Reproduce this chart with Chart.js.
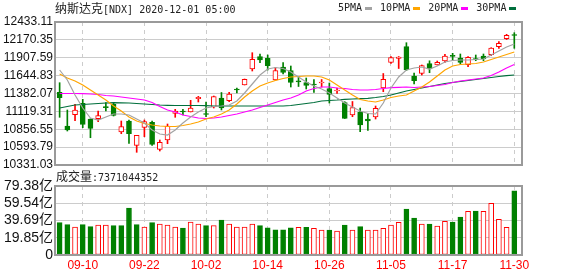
<!DOCTYPE html>
<html>
<head>
<meta charset="utf-8">
<script src="https://cdn.jsdelivr.net/npm/chart.js@4.4.1/dist/chart.umd.min.js"></script>
<style>
  body { margin: 0; background: #fff; }
  #wrap { position: relative; width: 578px; height: 276px; overflow: hidden; background: #fff; }
  canvas { position: absolute; left: 0; }
  #kline { top: 0; }
  #vol { top: 170px; }
  .txt { position: absolute; white-space: pre; font-family: 'DejaVu Sans Mono', monospace; font-size: 10px; color: #222; line-height: 14px; }
  .cjk { font-family: 'Noto Sans CJK SC', sans-serif; font-size: 12px; }
  .sw { display: inline-block; width: 7px; height: 3px; vertical-align: middle; margin: 0 8px 0 3px; }
</style>
</head>
<body>
<div id="wrap">
  <canvas id="kline" width="578" height="180"></canvas>
  <canvas id="vol" width="578" height="106"></canvas>
  <div class="txt" style="left:55px;top:1px"><span class="cjk">纳斯达克</span>[NDX] 2020-12-01 05:00</div>
  <div class="txt" id="legend" style="left:338px;top:1px"></div>
  <div class="txt" style="left:56px;top:169px"><span class="cjk">成交量</span>:7371044352</div>
</div>
<script>
// 交易日 (2020)
const dates = ['09-04','09-08','09-09','09-10','09-11','09-14','09-15','09-16','09-17','09-18',
  '09-21','09-22','09-23','09-24','09-25','09-28','09-29','09-30','10-01','10-02',
  '10-05','10-06','10-07','10-08','10-09','10-12','10-13','10-14','10-15','10-16',
  '10-19','10-20','10-21','10-22','10-23','10-26','10-27','10-28','10-29','10-30',
  '11-02','11-03','11-04','11-05','11-06','11-09','11-10','11-11','11-12','11-13',
  '11-16','11-17','11-18','11-19','11-20','11-23','11-24','11-25','11-27','11-30'];

// K线: 开 高 低 收
const openP = [11399.7,10904.3,11070.4,11238.0,11007.2,11011.6,11188.0,11223.3,10816.1,10977.8,
  10620.6,10885.2,10958.7,10561.8,10698.5,11091.0,11120.4,11110.1,11305.6,11088.0,
  11183.6,11315.9,11276.2,11440.8,11507.0,11742.2,11923.0,11899.5,11580.5,11771.6,
  11720.1,11562.9,11543.7,11517.3,11536.4,11455.5,11418.8,11246.8,11066.0,11110.1,
  11007.2,11036.6,11462.9,11837.7,11896.5,12070.0,11639.3,11679.0,11820.1,11801.0,
  11859.8,11937.7,11903.9,11805.4,11896.5,11933.3,11952.4,12070.0,12187.6,12249.3];
const highP = [11540.8,11139.5,11223.3,11296.8,11010.0,11124.8,11246.8,11246.8,10977.8,10992.5,
  10767.6,10992.5,10977.8,10698.5,10933.7,11149.8,11149.8,11282.1,11340.9,11257.1,
  11345.3,11396.7,11399.7,11462.9,11595.2,11981.8,11962.7,11948.0,11767.2,11837.7,
  11786.3,11624.6,11609.9,11587.8,11587.8,11536.4,11462.9,11261.5,11264.5,11168.9,
  11088.0,11198.3,11676.0,11925.9,11925.9,12128.8,11683.4,11801.0,11862.7,11859.8,
  11958.3,11973.0,11962.7,11925.9,11948.0,11962.7,12055.3,12143.5,12252.3,12275.8];
const lowP = [11032.2,10830.8,10982.2,10879.3,10732.3,10967.5,11124.8,11051.3,10791.1,10650.0,
  10517.7,10747.0,10620.6,10536.8,10644.1,11032.2,11066.0,11110.1,11257.1,11041.0,
  11168.9,11139.5,11261.5,11389.4,11507.0,11712.8,11834.8,11727.5,11573.2,11668.7,
  11477.6,11484.9,11448.2,11396.7,11477.6,11242.4,11382.0,11014.5,11041.0,10820.5,
  10838.1,11007.2,11408.5,11823.0,11749.5,11720.1,11521.7,11654.0,11687.8,11801.0,
  11837.7,11867.1,11815.7,11776.0,11864.2,11864.2,11937.7,12046.5,12175.8,12046.5];
const closeP = [11320.3,10845.5,11139.5,10929.3,10870.5,11055.7,11173.3,11061.6,10894.0,10791.1,
  10767.6,10967.5,10635.3,10664.7,10904.3,11124.8,11110.1,11168.9,11326.2,11073.3,
  11335.0,11168.9,11374.7,11433.5,11590.8,11884.8,11874.5,11790.7,11720.1,11690.7,
  11543.8,11554.0,11499.6,11507.0,11551.1,11367.3,11433.5,11017.5,11176.2,10919.0,
  10977.8,11164.5,11590.8,11911.2,11918.6,11727.5,11570.2,11790.7,11742.2,11840.7,
  11933.3,11928.9,11837.7,11914.2,11881.8,11889.2,12050.9,12120.0,12237.6,12234.6];

// 均线
const ma5 = [11727.5,11580.5,11360.0,11168.9,11021.9,10992.5,11036.6,11080.7,11080.7,11066.0,
  11007.2,10948.4,10845.5,10786.7,10772.0,10845.5,10948.4,11036.6,11110.1,11168.9,
  11190.9,11198.3,11213.0,11271.8,11389.4,11521.7,11654.0,11742.2,11764.2,11749.5,
  11698.1,11624.6,11551.1,11492.3,11448.2,11389.4,11315.9,11242.4,11183.6,11124.8,
  11088.0,11080.7,11242.4,11462.9,11624.6,11727.5,11756.9,11771.6,11742.2,11786.3,
  11845.1,11867.1,11874.5,11874.5,11881.8,11889.2,11948.0,12006.8,12065.6,12109.7];
const ma10 = [11668.7,11609.9,11565.8,11507.0,11433.5,11360.0,11286.5,11198.3,11124.8,11036.6,
  10977.8,10941.0,10919.0,10904.3,10896.9,10896.9,10911.6,10933.7,10963.1,11007.2,
  11036.6,11080.7,11139.5,11227.7,11330.6,11418.8,11492.3,11536.4,11573.1,11602.5,
  11624.6,11631.9,11639.3,11639.3,11624.6,11580.5,11507.0,11433.5,11360.0,11293.8,
  11271.8,11257.1,11286.5,11323.2,11345.3,11360.0,11418.8,11477.6,11551.1,11639.3,
  11727.5,11786.3,11808.3,11815.7,11823.0,11845.1,11881.8,11918.6,11955.3,11992.1];
const ma20 = [11382.0,11382.0,11382.0,11379.1,11374.7,11367.3,11352.6,11345.3,11330.6,11315.9,
  11301.2,11286.5,11249.7,11190.9,11139.5,11110.1,11066.0,11043.9,11021.9,11014.5,
  11021.9,11036.6,11058.6,11080.7,11110.1,11139.5,11176.2,11213.0,11249.7,11286.5,
  11315.9,11360.0,11418.8,11455.5,11477.6,11477.6,11462.9,11455.5,11440.8,11433.5,
  11433.5,11440.8,11455.5,11467.3,11473.2,11477.6,11470.2,11477.6,11484.9,11499.6,
  11514.3,11543.7,11565.8,11580.5,11595.2,11609.9,11646.6,11698.1,11756.9,11808.3];
const ma30 = [11168.9,11190.9,11213.0,11220.3,11227.7,11235.0,11242.4,11246.8,11245.3,11242.4,
  11235.0,11227.7,11220.3,11213.0,11208.6,11205.6,11205.6,11205.6,11205.6,11202.7,
  11198.3,11198.3,11198.3,11198.3,11198.3,11198.3,11198.3,11198.3,11198.3,11198.3,
  11205.6,11220.3,11235.0,11249.7,11271.8,11279.1,11286.5,11296.8,11301.2,11305.6,
  11311.5,11323.2,11337.9,11360.0,11389.4,11418.8,11440.8,11462.9,11484.9,11507.0,
  11529.0,11543.7,11558.4,11573.1,11587.8,11602.5,11617.2,11631.9,11643.7,11654.0];

// 成交量 (亿)
const volume = [37.2,34.9,32.2,34.9,32.6,34.5,34.5,33.8,33.8,54.1,
  34.9,32.2,37.2,35.7,34.5,32.2,31.1,38.0,35.7,33.8,
  33.8,40.3,35.7,32.2,32.2,35.7,33.8,31.4,29.1,29.1,
  31.2,31.8,31.8,30.7,28.8,28.8,27.6,34.5,28.8,32.6,
  28.8,28.8,30.7,34.5,37.6,52.9,42.6,35.7,35.7,33.4,
  38.7,38.0,43.7,50.2,50.6,50.2,59.5,41.1,31.8,73.71];

const priceTicks = [10331.03,10593.79,10856.55,11119.31,11382.07,11644.83,11907.59,12170.35,12433.11];
const volTicks = [0,19.85,39.69,59.54,79.38];
const labelDates = ['09-10','09-22','10-02','10-14','10-26','11-05','11-17','11-30'];

const maNames = ['5PMA','10PMA','20PMA','30PMA'];
const maColors = ['#a3a3a3','#ffa500','#ff00ff','#006f3c'];

const RED = '#ff0000';
const GREEN = '#008000';

Chart.defaults.font.family = "'Liberation Sans', 'Noto Sans CJK SC', sans-serif";
Chart.defaults.font.size = 12;
Chart.defaults.color = '#111';

const up = closeP.map((c, i) => c >= openP[i]);
// 量柱颜色按与前一日收盘比较
const volUp = closeP.map((c, i) => i === 0 ? up[0] : c >= closeP[i - 1]);
const tickIdx = labelDates.map(d => dates.indexOf(d));

// 图框
const frame = {
  id: 'frame',
  afterDraw(chart) {
    const a = chart.chartArea;
    const ctx = chart.ctx;
    ctx.save();
    ctx.strokeStyle = '#9a9a9a';
    ctx.lineWidth = 2;
    ctx.strokeRect(a.left, a.top, a.right - a.left, a.bottom - a.top);
    ctx.restore();
  }
};

function xAxis(showLabels) {
  return {
    type: 'linear', min: -0.6, max: 60, offset: false,
    afterBuildTicks: s => { s.ticks = tickIdx.map(v => ({ value: v })); },
    afterFit: s => { s.height = showLabels ? 21 : 0; },
    grid: { color: '#cccccc', lineWidth: 1, drawTicks: false, offset: false },
    border: { display: false, dash: [4, 4] },
    ticks: {
      display: showLabels, autoSkip: false, maxRotation: 0, padding: 3,
      color: RED, font: { size: 12 },
      callback: v => dates[v]
    }
  };
}

const toPts = arr => arr.map((v, i) => ({ x: i, y: v }));

const lineSets = [ma5, ma10, ma20, ma30].map((arr, k) => ({
  type: 'line',
  label: maNames[k],
  data: toPts(arr),
  borderColor: maColors[k],
  borderWidth: 1.2,
  pointRadius: 0,
  tension: 0,
  fill: false,
  order: 0
}));

new Chart(document.getElementById('kline'), {
  type: 'line',
  data: {
    datasets: [
      ...lineSets,
      {
        type: 'bar',
        label: 'body',
        data: openP.map((o, i) => ({ x: i, y: [o, closeP[i]] })),
        backgroundColor: up.map(u => u ? '#ffffff' : GREEN),
        borderColor: up.map(u => u ? RED : GREEN),
        borderWidth: 1,
        borderSkipped: false,
        barThickness: 5,
        minBarLength: 1,
        grouped: false,
        order: 1
      },
      {
        type: 'bar',
        label: 'wick',
        data: lowP.map((l, i) => ({ x: i, y: [l, highP[i]] })),
        backgroundColor: up.map(u => u ? RED : GREEN),
        borderWidth: 0,
        barThickness: 1,
        grouped: false,
        order: 2
      }
    ]
  },
  options: {
    responsive: false,
    animation: false,
    events: [],
    layout: { padding: { left: 0, right: 56, top: 22, bottom: 15 } },
    plugins: { legend: { display: false }, tooltip: { enabled: false } },
    scales: {
      x: xAxis(false),
      y: {
        type: 'linear',
        min: priceTicks[0], max: priceTicks[priceTicks.length - 1],
        afterBuildTicks: s => { s.ticks = priceTicks.map(v => ({ value: v })); },
        afterFit: s => { s.width = 55; },
        grid: { color: '#cccccc', lineWidth: 1, drawTicks: false },
        border: { display: false },
        ticks: { autoSkip: false, padding: 2, font: { size: 12 }, callback: v => v.toFixed(2) }
      }
    }
  },
  plugins: [frame]
});

new Chart(document.getElementById('vol'), {
  type: 'line',
  data: {
    datasets: [{
      type: 'bar',
      label: '成交量',
      data: toPts(volume),
      backgroundColor: volUp.map(u => u ? '#ffffff' : GREEN),
      borderColor: volUp.map(u => u ? RED : GREEN),
      borderWidth: 1,
      borderSkipped: false,
      barThickness: 5,
      grouped: false
    }]
  },
  options: {
    responsive: false,
    animation: false,
    events: [],
    layout: { padding: { left: 0, right: 56, top: 16, bottom: 0 } },
    plugins: { legend: { display: false }, tooltip: { enabled: false } },
    scales: {
      x: xAxis(true),
      y: {
        type: 'linear',
        min: 0, max: volTicks[volTicks.length - 1],
        afterBuildTicks: s => { s.ticks = volTicks.map(v => ({ value: v })); },
        afterFit: s => { s.width = 55; },
        grid: { color: '#cccccc', lineWidth: 1, drawTicks: false },
        border: { display: false },
        ticks: { autoSkip: false, padding: 2, font: { size: 14 }, callback: v => v === 0 ? '0' : v.toFixed(2) + '亿' }
      }
    }
  },
  plugins: [frame]
});

// 图例
const legend = document.getElementById('legend');
maNames.forEach((name, k) => {
  legend.appendChild(document.createTextNode(name));
  const sw = document.createElement('span');
  sw.className = 'sw';
  sw.style.background = maColors[k];
  legend.appendChild(sw);
});
</script>
</body>
</html>
